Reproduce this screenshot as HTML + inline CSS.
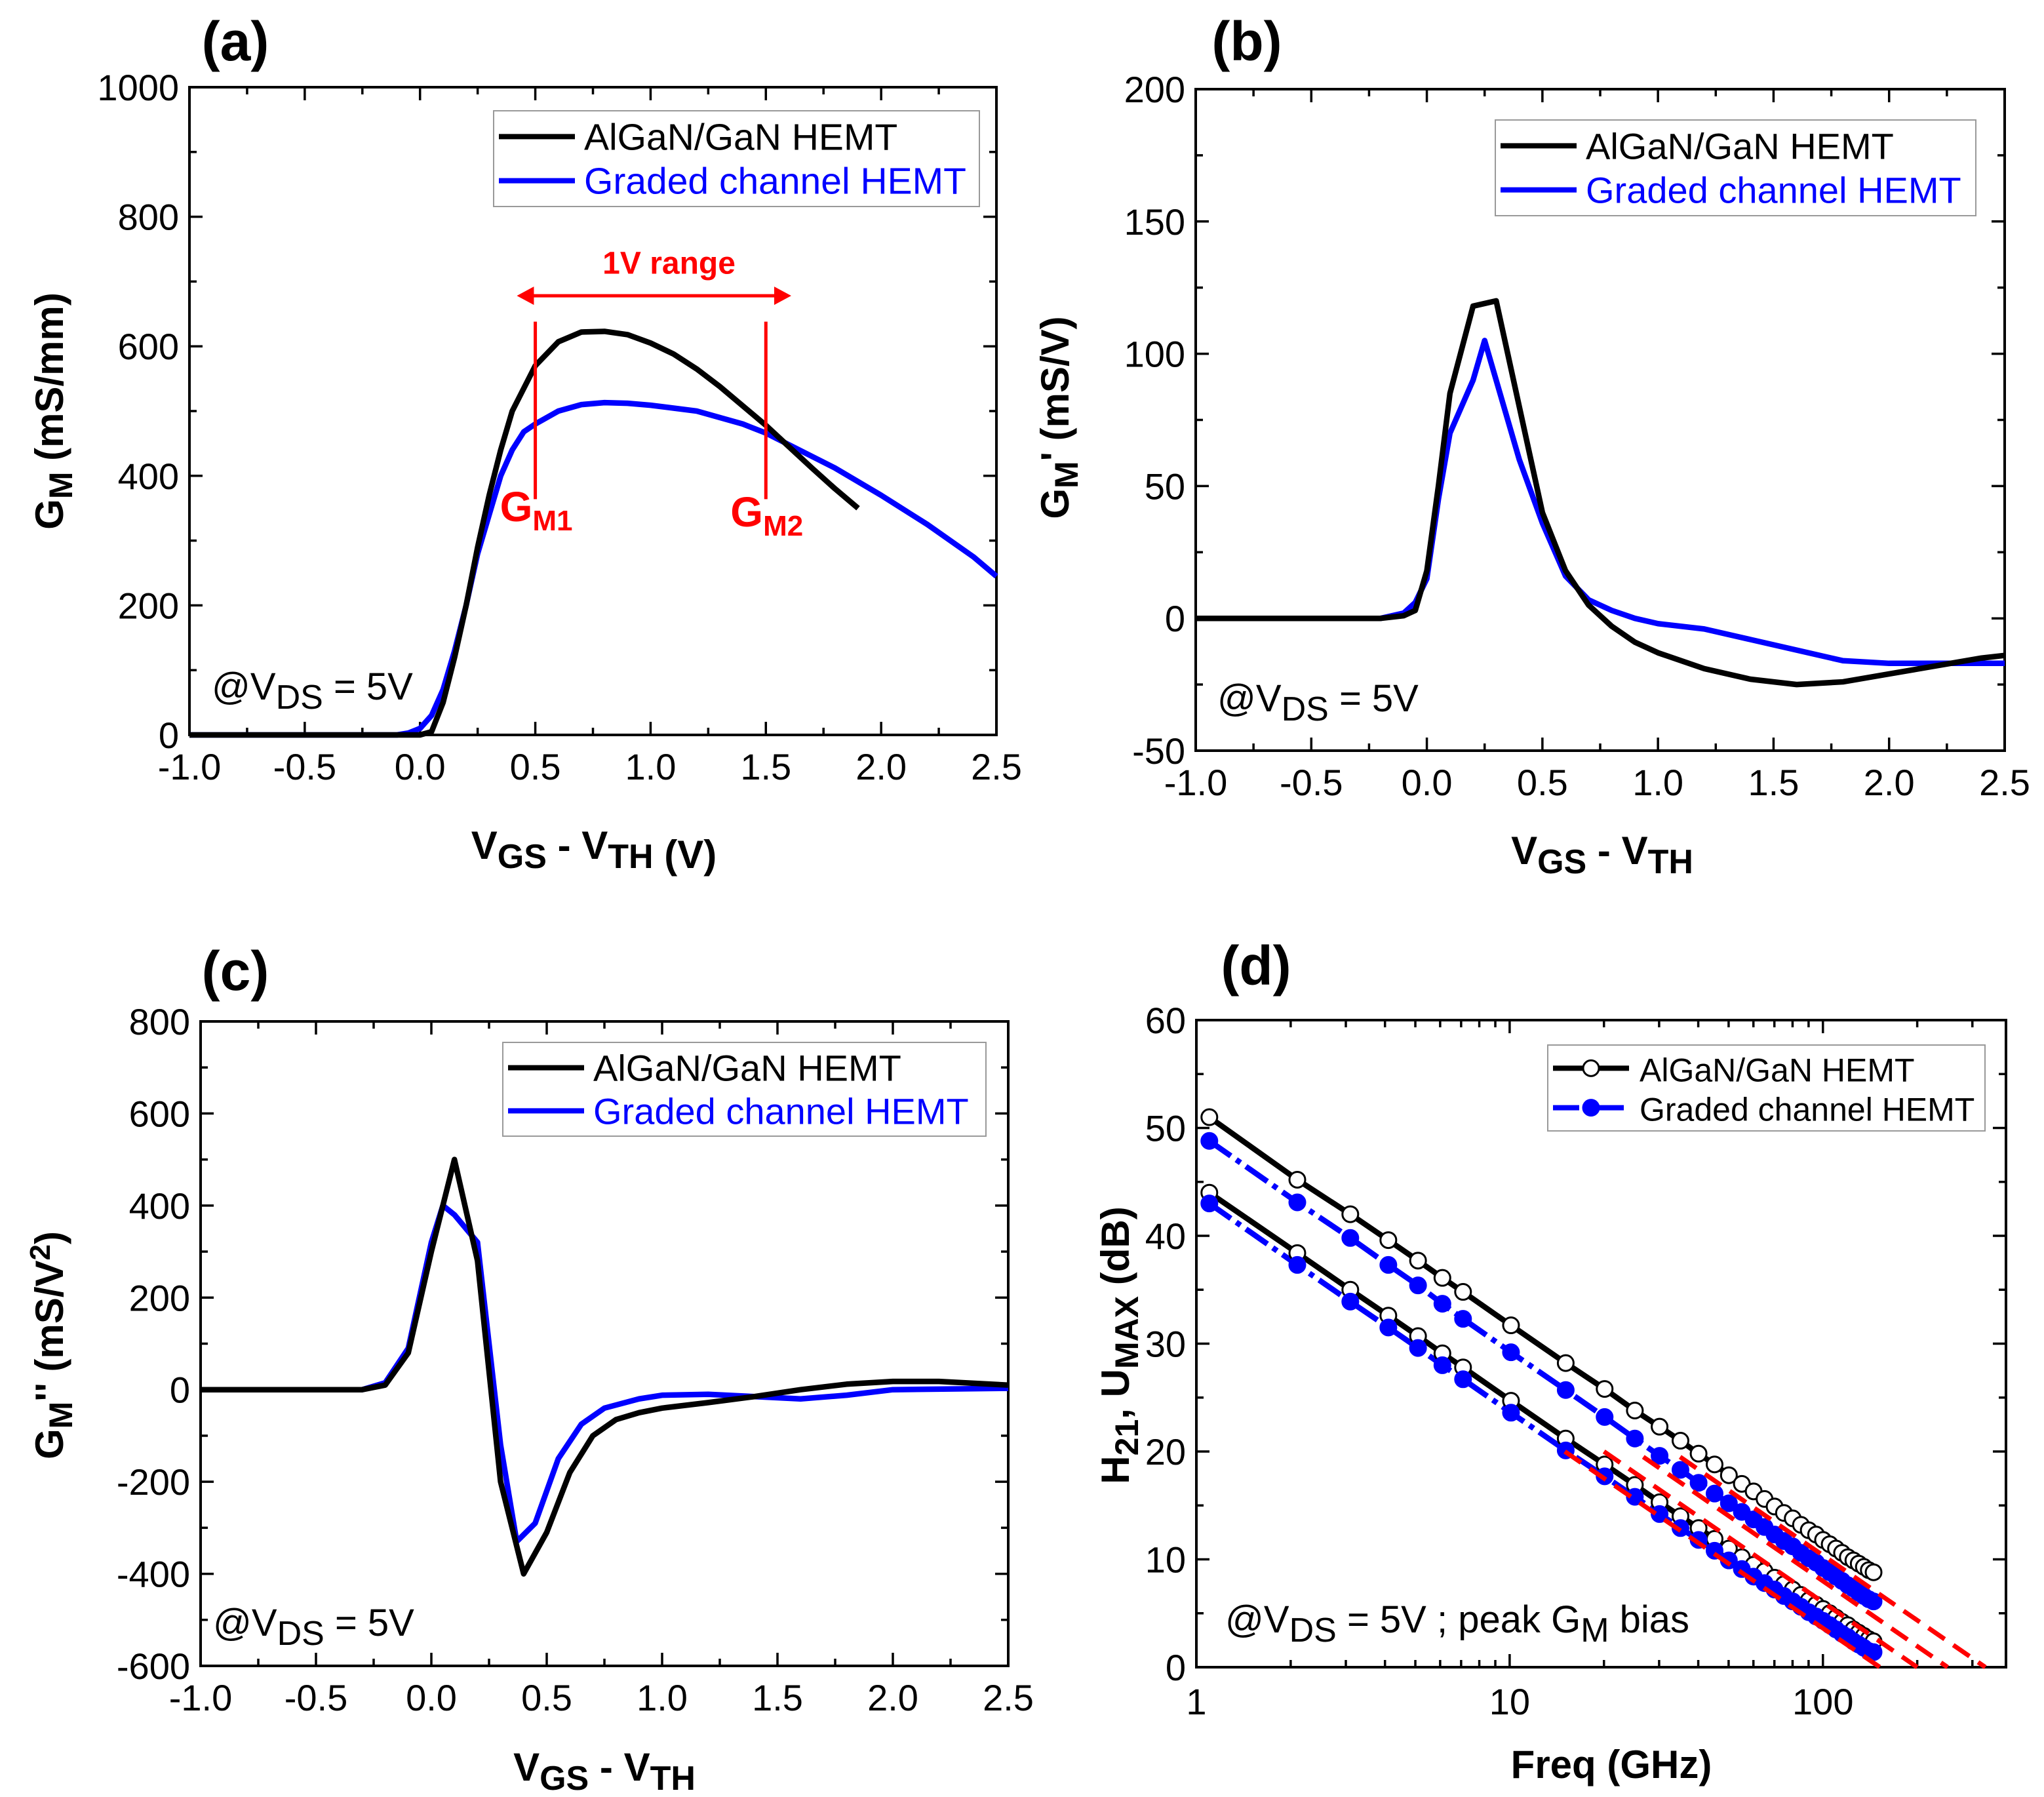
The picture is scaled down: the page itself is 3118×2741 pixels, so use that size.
<!DOCTYPE html>
<html><head><meta charset="utf-8"><style>
html,body{margin:0;padding:0;background:#fff;}
svg{display:block;font-family:"Liberation Sans",Arial,sans-serif;}
</style></head><body>
<svg id="fig" width="3118" height="2741" viewBox="0 0 3118 2741" xmlns="http://www.w3.org/2000/svg"></svg>
<script>
// ---------- Panel (a) data ----------
const aBlackX=[-1,-0.5,0,0.05,0.1,0.15,0.2,0.25,0.3,0.35,0.4,0.5,0.6,0.7,0.8,0.9,1.0,1.1,1.2,1.3,1.4,1.5,1.6,1.7,1.8,1.9];
const aBlackY=[0,0,0,5,50,120,200,290,370,440,500,570,607,622,623,618,605,588,565,538,508,478,445,412,380,350];
const aBlueX=[-1,-0.5,-0.1,-0.05,0,0.05,0.1,0.15,0.2,0.25,0.3,0.35,0.4,0.45,0.5,0.6,0.7,0.8,0.9,1.0,1.2,1.4,1.5,1.6,1.8,2.0,2.2,2.4,2.5];
const aBlueY=[0,0,0,3,10,30,70,130,200,280,340,400,440,468,480,500,510,513,512,509,500,480,466,448,412,370,325,275,245];
// ---------- Panel (b) data ----------
const bBlackX=[-1,-0.5,-0.2,-0.1,-0.05,0,0.05,0.1,0.2,0.3,0.4,0.5,0.6,0.7,0.8,0.9,1.0,1.2,1.4,1.6,1.8,2.0,2.2,2.4,2.5];
const bBlackY=[0,0,0,1,3,18,50,85,118,120,80,40,18,5,-3,-9,-13,-19,-23,-25,-24,-21,-18,-15,-14];
const bBlueX=[-1,-0.5,-0.2,-0.1,-0.05,0,0.05,0.1,0.2,0.25,0.3,0.4,0.5,0.6,0.7,0.8,0.9,1.0,1.2,1.4,1.6,1.8,2.0,2.2,2.5];
const bBlueY=[0,0,0,2,6,15,45,70,90,105,90,60,36,16,7,3,0,-2,-4,-8,-12,-16,-17,-17,-17];
// ---------- Panel (c) data ----------
const cBlackX=[-1,-0.5,-0.3,-0.2,-0.1,0,0.1,0.2,0.3,0.4,0.5,0.6,0.7,0.8,0.9,1.0,1.2,1.4,1.6,1.8,2.0,2.2,2.5];
const cBlackY=[0,0,0,10,80,300,500,280,-200,-400,-310,-180,-100,-65,-50,-40,-28,-15,0,12,18,18,10];
const cBlueX=[-1,-0.5,-0.3,-0.2,-0.1,0,0.05,0.1,0.2,0.3,0.37,0.45,0.55,0.65,0.75,0.9,1.0,1.2,1.4,1.6,1.8,2.0,2.5];
const cBlueY=[0,0,0,15,90,320,400,380,320,-120,-330,-290,-150,-75,-40,-20,-12,-10,-15,-20,-12,0,3];
// ---------- Panel (d) data ----------
const dFreq=[1.1,2.1,3.1,4.1,5.1,6.1,7.1,10.1,15.1,20.1,25.1,30.1,35.1,40.1,45.1,50.1,55.1,60.1,65.1,70.1,75.1,80.1,85.1,90.1,95.1,100.1,105.1,110.1,115.1,120.1,125.1,130.1,135.1,140.1,145.1];
const dUBlack=[51,45.2,42.0,39.6,37.7,36.1,34.8,31.7,28.2,25.8,23.8,22.3,21.0,19.8,18.8,17.8,17.0,16.3,15.6,14.9,14.3,13.8,13.2,12.7,12.3,11.8,11.4,11.0,10.6,10.2,9.9,9.6,9.3,9.0,8.8];
const dUBlue=[48.8,43.1,39.8,37.3,35.4,33.7,32.3,29.2,25.7,23.2,21.2,19.6,18.3,17.1,16.1,15.2,14.4,13.7,13.0,12.3,11.7,11.2,10.6,10.1,9.7,9.2,8.8,8.4,8.0,7.6,7.3,6.9,6.6,6.3,6.1];
const dHBlack=[44,38.4,35.0,32.6,30.7,29.1,27.8,24.7,21.2,18.8,16.9,15.3,14.0,12.9,11.9,11.0,10.2,9.5,8.9,8.3,7.7,7.2,6.7,6.2,5.8,5.4,5.0,4.6,4.2,3.9,3.5,3.2,2.9,2.6,2.4];
const dHBlue=[43,37.3,33.9,31.5,29.6,28.0,26.7,23.6,20.1,17.7,15.8,14.2,12.9,11.8,10.8,9.9,9.1,8.4,7.8,7.2,6.6,6.1,5.6,5.1,4.7,4.3,3.9,3.5,3.1,2.8,2.4,2.1,1.8,1.5,1.4];
const dFitF0=[15,20,26.7,35];
const dFitF1=[152,200,250,330];
const dFitY0=[20,20,19.5,19.5];
const dFitY1=[0,0,0,0];

const NS="http://www.w3.org/2000/svg";
const svg=document.getElementById('fig');
function mk(tag,attrs,parent){const e=document.createElementNS(NS,tag);for(const k in attrs)e.setAttribute(k,attrs[k]);(parent||svg).appendChild(e);return e;}

function linScale(d0,d1,r0,r1){return v=>r0+(v-d0)/(d1-d0)*(r1-r0);}
function logScale(d0,d1,r0,r1){return v=>r0+(Math.log10(v)-Math.log10(d0))/(Math.log10(d1)-Math.log10(d0))*(r1-r0);}

function frame(g,L,T,R,B){
  const f=mk('rect',{x:L,y:T,width:R-L,height:B-T,fill:'none',stroke:'#000','stroke-width':4},g);
  
  
}
function tick(g,x1,y1,x2,y2){mk('line',{x1,y1,x2,y2,stroke:'#000','stroke-width':3.5},g);}

function linAxes(g,L,T,R,B,sx,sy,xt,xminor,yt,yminor,xfmt,yfmt){
  xt.forEach(v=>{const x=sx(v);tick(g,x,B,x,B-20);tick(g,x,T,x,T+20);
    const t=mk('text',{x:x,y:B+68,'font-size':56,'text-anchor':'middle',fill:'#000'},g);t.textContent=xfmt(v);
    });
  xminor.forEach(v=>{const x=sx(v);tick(g,x,B,x,B-11);tick(g,x,T,x,T+11);});
  yt.forEach(v=>{const y=sy(v);tick(g,L,y,L+20,y);tick(g,R,y,R-20,y);
    const t=mk('text',{x:L-16,y:y+20,'font-size':56,'text-anchor':'end',fill:'#000'},g);t.textContent=yfmt(v);
    });
  yminor.forEach(v=>{const y=sy(v);tick(g,L,y,L+11,y);tick(g,R,y,R-11,y);});
}
function curve(g,xs,ys,sx,sy,color,name,dash){
  const p=mk('polyline',{points:xs.map((x,i)=>sx(x)+','+sy(ys[i])).join(' '),fill:'none',stroke:color,'stroke-width':8.5,'stroke-linejoin':'round'},g);
  if(dash)p.setAttribute('stroke-dasharray',dash);
  
  
  return p;
}
function legend(g,x,y,w,h,entries,markers,fs){
  const b=mk('rect',{x,y,width:w,height:h,fill:'#fff',stroke:'#999','stroke-width':2},g);
  
  
  entries.forEach((e,i)=>{
    const cy=y+h*(i===0?0.27:0.73);
    const l=mk('line',{x1:x+8,y1:cy,x2:x+124,y2:cy,stroke:e.c,'stroke-width':8},g);
    if(e.dash)l.setAttribute('stroke-dasharray',e.dash);
    if(markers){mk('circle',{cx:x+66,cy:cy,r:12,fill:e.fill,stroke:e.c,'stroke-width':3},g);}
    const t=mk('text',{x:x+(markers?140:138),y:cy+20,'font-size':fs,fill:e.tc},g);t.textContent=e.t;
    
    
  });
}
function vds(g,x,y){
  const t=mk('text',{x,y,'font-size':58,fill:'#000'},g);
  
  
  t.innerHTML='@V<tspan dy="14" font-size="52">DS</tspan><tspan dy="-14"> = 5V</tspan>';
  return t;
}
function plabel(x,y,s){const t=mk('text',{x,y,'font-size':84,'font-weight':'bold','text-anchor':'middle',fill:'#000'});t.textContent=s;
  }
function xtitle(g,x,y,html){const t=mk('text',{x,y,'font-size':60,'font-weight':'bold','text-anchor':'middle',fill:'#000'},g);t.innerHTML=html;
  }
function ytitle(g,x,y,html){const t=mk('text',{x:0,y:0,'font-size':60,'font-weight':'bold','text-anchor':'middle',fill:'#000',transform:`translate(${x},${y}) rotate(-90)`},g);t.innerHTML=html;
  }
const fmt1=v=>v.toFixed(1);
const fmt0=v=>String(v);
const vx=[-1,-0.5,0,0.5,1,1.5,2,2.5];
const vxm=[-0.75,-0.25,0.25,0.75,1.25,1.75,2.25];
const vgsTitle='V<tspan dy="14" font-size="52">GS</tspan><tspan dy="-14"> - V</tspan><tspan dy="14" font-size="52">TH</tspan>';

// ===== Panel a =====
(function(){
  const g=mk('g',{});
  const L=289,T=133,R=1520,B=1121;
  const sx=linScale(-1,2.5,L,R),sy=linScale(0,1000,B,T);
  frame(g,L,T,R,B);
  linAxes(g,L,T,R,B,sx,sy,vx,vxm,[0,200,400,600,800,1000],[100,300,500,700,900],fmt1,fmt0);
  curve(g,aBlueX,aBlueY,sx,sy,'#0000ff','graded-channel-curve');
  curve(g,aBlackX,aBlackY,sx,sy,'#000','algan-gan-curve');
  [0.5,1.5].forEach(v=>{const l=mk('line',{x1:sx(v),y1:sy(638),x2:sx(v),y2:sy(364),stroke:'#ff0000','stroke-width':5},g);
    });
  const ay=sy(678),ax0=sx(0.42),ax1=sx(1.61);
  const ar=mk('line',{x1:ax0+20,y1:ay,x2:ax1-20,y2:ay,stroke:'#ff0000','stroke-width':5},g);
  
  mk('polygon',{points:`${ax0},${ay} ${ax0+26},${ay-14} ${ax0+26},${ay+14}`,fill:'#ff0000'},g);
  mk('polygon',{points:`${ax1},${ay} ${ax1-26},${ay-14} ${ax1-26},${ay+14}`,fill:'#ff0000'},g);
  const rt=mk('text',{x:sx(1.08),y:sy(712),'font-size':48,'font-weight':'bold','text-anchor':'middle',fill:'#ff0000'},g);rt.textContent='1V range';
  
  [[0.5,'GM1',330],[1.5,'GM2',322]].forEach(([v,s,yy])=>{const t=mk('text',{x:sx(v)-54,y:sy(yy),'font-size':64,'font-weight':'bold',fill:'#ff0000'},g);
    t.innerHTML='G<tspan dy="14" font-size="44">M'+s.slice(2)+'</tspan>';
    });
  legend(g,753,169,741,146,[{c:'#000',tc:'#000',t:'AlGaN/GaN HEMT'},{c:'#0000ff',tc:'#0000ff',t:'Graded channel HEMT'}],false,57);
  vds(g,323,1067);
  xtitle(g,906,1310,vgsTitle+'<tspan> (V)</tspan>');
  ytitle(g,96,627,'G<tspan dy="14" font-size="50">M</tspan><tspan dy="-14"> (mS/mm)</tspan>');
})();
plabel(359,92,'(a)');

// ===== Panel b =====
(function(){
  const g=mk('g',{});
  const L=1824,T=136,R=3058,B=1145;
  const sx=linScale(-1,2.5,L,R),sy=linScale(-50,200,B,T);
  frame(g,L,T,R,B);
  linAxes(g,L,T,R,B,sx,sy,vx,vxm,[-50,0,50,100,150,200],[-25,25,75,125,175],fmt1,fmt0);
  curve(g,bBlueX,bBlueY,sx,sy,'#0000ff','graded-channel-curve');
  curve(g,bBlackX,bBlackY,sx,sy,'#000','algan-gan-curve');
  legend(g,2281,183,733,146,[{c:'#000',tc:'#000',t:'AlGaN/GaN HEMT'},{c:'#0000ff',tc:'#0000ff',t:'Graded channel HEMT'}],false,56);
  vds(g,1857,1085);
  xtitle(g,2444,1318,vgsTitle);
  ytitle(g,1630,637,"G<tspan dy=\"14\" font-size=\"50\">M</tspan><tspan dy=\"-14\">' (mS/V)</tspan>");
})();
plabel(1902,92,'(b)');

// ===== Panel c =====
(function(){
  const g=mk('g',{});
  const L=306,T=1558,R=1538,B=2541;
  const sx=linScale(-1,2.5,L,R),sy=linScale(-600,800,B,T);
  frame(g,L,T,R,B);
  linAxes(g,L,T,R,B,sx,sy,vx,vxm,[-600,-400,-200,0,200,400,600,800],[-500,-300,-100,100,300,500,700],fmt1,fmt0);
  curve(g,cBlueX,cBlueY,sx,sy,'#0000ff','graded-channel-curve');
  curve(g,cBlackX,cBlackY,sx,sy,'#000','algan-gan-curve');
  legend(g,767,1590,737,143,[{c:'#000',tc:'#000',t:'AlGaN/GaN HEMT'},{c:'#0000ff',tc:'#0000ff',t:'Graded channel HEMT'}],false,56);
  vds(g,325,2495);
  xtitle(g,922,2716,vgsTitle);
  ytitle(g,96,2052,"G<tspan dy=\"14\" font-size=\"50\">M</tspan><tspan dy=\"-14\">'' (mS/V</tspan><tspan dy=\"-20\" font-size=\"44\">2</tspan><tspan dy=\"20\">)</tspan>");
})();
plabel(359,1510,'(c)');

// ===== Panel d =====
(function(){
  const g=mk('g',{});
  const L=1825,T=1556,R=3060,B=2543;
  const sx=logScale(1,384,L,R),sy=linScale(0,60,B,T);
  frame(g,L,T,R,B);
  linAxes(g,L,T,R,B,sx,sy,[],[],[0,10,20,30,40,50,60],[5,15,25,35,45,55],fmt0,fmt0);
  [1,10,100].forEach(v=>{const x=sx(v);tick(g,x,B,x,B-20);tick(g,x,T,x,T+20);
    const t=mk('text',{x,y:B+72,'font-size':56,'text-anchor':'middle',fill:'#000'},g);t.textContent=String(v);
    });
  [2,3,4,5,6,7,8,9,20,30,40,50,60,70,80,90,200,300].forEach(v=>{const x=sx(v);tick(g,x,B,x,B-11);tick(g,x,T,x,T+11);});
  const series=[[dUBlack,'#000','#fff',null,'umax-algan'],[dUBlue,'#0000ff','#0000ff','40,10,8,10','umax-graded'],[dHBlack,'#000','#fff',null,'h21-algan'],[dHBlue,'#0000ff','#0000ff','40,10,8,10','h21-graded']];
  series.forEach(([ys,c,fill,dash,name])=>{
    curve(g,dFreq,ys,sx,sy,c,name+'-line',dash);
  });
  series.forEach(([ys,c,fill,dash,name])=>{
    ys.forEach((v,i)=>{const m=mk('circle',{cx:sx(dFreq[i]),cy:sy(v),r:12,fill:fill,stroke:c,'stroke-width':3},g);
      });
  });
  dFitF0.forEach((f,i)=>{const l=mk('line',{x1:sx(f),y1:sy(dFitY0[i]),x2:sx(dFitF1[i]),y2:sy(dFitY1[i]),stroke:'#ff0000','stroke-width':7,'stroke-dasharray':'30,16'},g);
    });
  legend(g,2361,1594,667,131,[{c:'#000',tc:'#000',t:'AlGaN/GaN HEMT',fill:'#fff'},{c:'#0000ff',tc:'#000',t:'Graded channel HEMT',fill:'#0000ff',dash:'40,10,8,10'}],true,50);
  const t=vds(g,1869,2490);
  t.innerHTML='@V<tspan dy="14" font-size="52">DS</tspan><tspan dy="-14"> = 5V ; peak G</tspan><tspan dy="14" font-size="52">M</tspan><tspan dy="-14"> bias</tspan>';
  xtitle(g,2458,2712,'Freq (GHz)');
  ytitle(g,1722,2052,'H<tspan dy="14" font-size="50">21</tspan><tspan dy="-14">, U</tspan><tspan dy="14" font-size="50">MAX</tspan><tspan dy="-14"> (dB)</tspan>');
})();
plabel(1916,1502,'(d)');
</script>
</body></html>
